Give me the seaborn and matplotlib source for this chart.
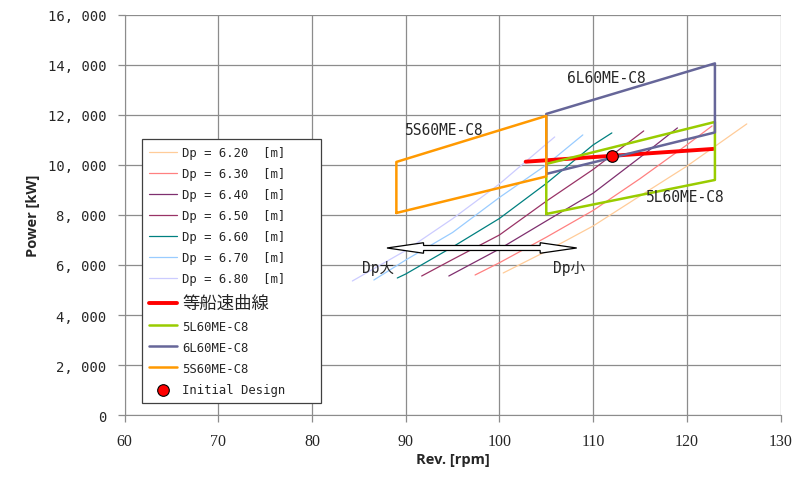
import numpy as np
import pandas as pd
import matplotlib
matplotlib.use("Agg")
import matplotlib.pyplot as plt
import seaborn as sns
from matplotlib.patches import Polygon

# propeller curves for each diameter
dp_labels = ["Dp = 6.20  [m]", "Dp = 6.30  [m]", "Dp = 6.40  [m]", "Dp = 6.50  [m]",
             "Dp = 6.60  [m]", "Dp = 6.70  [m]", "Dp = 6.80  [m]"]
dp_colors = ["#FFCC99", "#FF8080", "#7F2F6F", "#993366", "#008080", "#99CCFF", "#CCCCFF"]

rev_620 = [100.4, 105, 110, 115, 120, 126.4]
pow_620 = [5680, 6550, 7560, 8760, 9950, 11640]
rev_630 = [97.4, 100, 105, 110, 115, 120, 122.7]
pow_630 = [5600, 6090, 7110, 8180, 9450, 10800, 11560]
rev_640 = [94.6, 100, 105, 110, 115, 119.0]
pow_640 = [5560, 6640, 7760, 8870, 10300, 11480]
rev_650 = [91.7, 95, 100, 105, 110, 115.4]
pow_650 = [5560, 6220, 7200, 8550, 9820, 11360]
rev_660 = [89.1, 90, 95, 100, 105, 110, 112.0]
pow_660 = [5480, 5640, 6720, 7860, 9260, 10800, 11280]
rev_670 = [86.6, 90, 95, 100, 105, 108.9]
pow_670 = [5400, 6200, 7300, 8700, 10000, 11200]
rev_680 = [84.3, 90, 95, 100, 105.9]
pow_680 = [5360, 6580, 7850, 9240, 11120]

dp_revs = [rev_620, rev_630, rev_640, rev_650, rev_660, rev_670, rev_680]
dp_pows = [pow_620, pow_630, pow_640, pow_650, pow_660, pow_670, pow_680]

# constant ship speed line
speed_rev = [102.8, 122.8]
speed_pow = [10130, 10640]

# engine layout envelopes
rev_5L = [105, 105, 123, 123, 105]
pow_5L = [8040, 10040, 11720, 9400, 8040]
rev_6L = [105, 105, 123, 123, 105]
pow_6L = [9640, 12040, 14060, 11300, 9640]
rev_5S = [89, 89, 105, 105, 89]
pow_5S = [8080, 10120, 11960, 9540, 8080]

design_rev = [112.0]
design_pow = [10360]

sns.set_style("white")
plt.rcParams['font.family'] = ['DejaVu Sans', 'Noto Sans CJK JP']

fig = plt.figure(figsize=(7.94, 4.81), dpi=100)
ax = fig.add_axes([0.157, 0.135, 0.826, 0.832])

for revs, pows, lab, col in zip(dp_revs, dp_pows, dp_labels, dp_colors):
    sns.lineplot(x=revs, y=pows, sort=False, estimator=None, color=col, lw=0.9, ax=ax, label=lab)

sns.lineplot(x=speed_rev, y=speed_pow, sort=False, estimator=None, color="#FF0000", lw=2.8,
             ax=ax, label="等船速曲線")
sns.lineplot(x=rev_5L, y=pow_5L, sort=False, estimator=None, color="#99CC00", lw=1.8, ax=ax,
             label="5L60ME-C8")
sns.lineplot(x=rev_6L, y=pow_6L, sort=False, estimator=None, color="#666699", lw=1.8, ax=ax,
             label="6L60ME-C8")
sns.lineplot(x=rev_5S, y=pow_5S, sort=False, estimator=None, color="#FF9900", lw=1.8, ax=ax,
             label="5S60ME-C8")
sns.scatterplot(x=design_rev, y=design_pow, color="#FF0000", edgecolor="black", s=70,
                linewidth=0.8, zorder=5, ax=ax, label="Initial Design")

# double headed arrow (Dp large <-> Dp small)
x0, x1, ya = 88.0, 108.25, 6680
bw, hw, hl = 200, 420, 3.9
arrow_pts = [(x0, ya), (x0 + hl, ya + hw / 2), (x0 + hl, ya + bw / 2), (x1 - hl, ya + bw / 2),
             (x1 - hl, ya + hw / 2), (x1, ya), (x1 - hl, ya - hw / 2), (x1 - hl, ya - bw / 2),
             (x0 + hl, ya - bw / 2), (x0 + hl, ya - hw / 2)]
ax.add_patch(Polygon(arrow_pts, closed=True, fc="white", ec="black", lw=0.9, zorder=3))

mono = ['DejaVu Sans Mono', 'Noto Sans CJK JP']
ax.text(87.0, 5900, "Dp大", family=mono, fontsize=10.5, ha="center", va="center")
ax.text(107.4, 5900, "Dp小", family=mono, fontsize=10.5, ha="center", va="center")
ax.text(94.1, 11400, "5S60ME-C8", family=mono, fontsize=10.5, ha="center", va="center")
ax.text(111.4, 13480, "6L60ME-C8", family=mono, fontsize=10.5, ha="center", va="center")
ax.text(119.8, 8720, "5L60ME-C8", family=mono, fontsize=10.5, ha="center", va="center")

ax.set_xlim(60, 130)
ax.set_ylim(0, 16000)
ax.set_xticks(np.arange(60, 131, 10))
ax.set_yticks(np.arange(0, 16001, 2000))
ax.set_yticklabels([f"{v:,}".replace(",", ", ") for v in range(0, 16001, 2000)],
                   family=mono, fontsize=10)
ax.set_xticklabels([str(v) for v in range(60, 131, 10)], family="Liberation Serif", fontsize=11.5)
ax.grid(True, color="#8c8c8c", lw=0.9)
ax.set_axisbelow(True)
for s in ["top", "right"]:
    ax.spines[s].set_visible(False)
for s in ["left", "bottom"]:
    ax.spines[s].set_color("#8c8c8c")
ax.tick_params(axis="both", direction="out", length=5, color="#8c8c8c", width=0.9,
               left=True, bottom=True, pad=8)

bold = ['Open Sans', 'DejaVu Sans']
ax.set_xlabel("Rev. [rpm]", family=bold, fontweight="bold", fontsize=10.5, labelpad=2)
ax.set_ylabel("Power [kW]", family=bold, fontweight="bold", fontsize=10.5, labelpad=6)

leg = ax.legend(loc="lower left", bbox_to_anchor=(0.026, 0.03, 0.274, 0.655), mode="expand",
                frameon=True, fancybox=False,
                edgecolor="#404040", framealpha=1, prop=dict(family=mono, size=8.8),
                labelspacing=0.66, handlelength=2.3, borderpad=0.6, handletextpad=0.4,
                borderaxespad=0)
leg.get_frame().set_linewidth(0.9)
for t in leg.get_texts():
    if t.get_text() == "等船速曲線":
        t.set_fontsize(12.5)
        t.set_family(['Noto Sans CJK JP'])

fig.savefig("out.png", dpi=100)
